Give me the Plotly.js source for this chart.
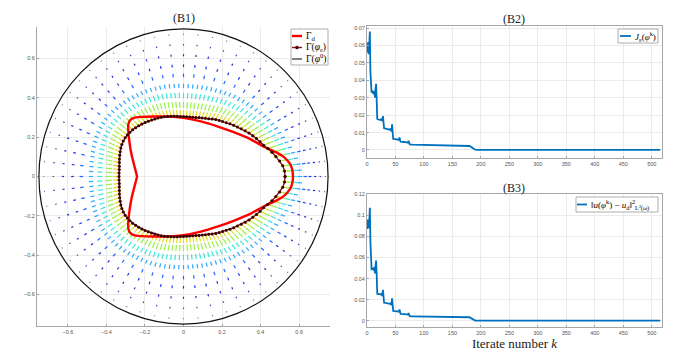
<!DOCTYPE html>
<html>
<head>
<meta charset="utf-8">
<script src="https://cdn.plot.ly/plotly-3.0.1.min.js"></script>
<style>
  html, body { margin: 0; padding: 0; background: #fff; }
  #chart { width: 698px; height: 363px; }
</style>
</head>
<body>
<div id="chart"></div>
<script>
// (B1) reconstructed boundary, polar samples of the upper half (deg, radius)
const epsAngle = [0,3,6,9,12,15,18,21,24,27,30,33,36,39,42,45,48,51,54,57,60,63,66,69,72,75,78,81,84,87,90,
                  93,96,99,102,105,108,111,114,117,120,123,126,129,132,135,138,141,144,147,150,153,156,159,162,165,168,171,174,177,180];
const epsRadius = [0.527,0.525,0.518,0.505,0.49,0.475,0.46,0.445,0.435,0.425,0.415,0.405,0.395,0.385,0.376,0.368,0.36,0.352,0.345,0.34,0.335,
                   0.328,0.322,0.317,0.313,0.31,0.307,0.305,0.304,0.304,0.305,0.306,0.308,0.31,0.313,0.316,0.319,0.322,0.325,0.328,0.331,
                   0.335,0.339,0.343,0.347,0.351,0.355,0.358,0.36,0.361,0.361,0.359,0.356,0.352,0.348,0.344,0.34,0.337,0.335,0.335,0.335];

// target boundary Gamma_d, upper half
const targetX = [0.568,0.565,0.555,0.54,0.52,0.486,0.42,0.346,0.26,0.175,0.09,0,-0.08,-0.155,-0.22,-0.258,-0.278,-0.286,-0.287,-0.285,-0.281,-0.275,-0.267,-0.258,-0.25,-0.244,-0.241];
const targetY = [0,0.03,0.06,0.08,0.1,0.12,0.15,0.19,0.225,0.255,0.28,0.298,0.305,0.305,0.303,0.298,0.285,0.265,0.24,0.215,0.18,0.14,0.1,0.065,0.035,0.012,0];

const outerRadius = 0.75;

// descent field: layers between the boundary and the outer circle
const layerT = [0.03,0.13,0.24,0.35,0.47,0.58,0.7,0.82,0.94];
const layerLen = [0.038,0.032,0.027,0.022,0.018,0.014,0.011,0.008,0.005];
const layerColor = ['#e4dc1c','#9cf048','#3ee6d6','#2eaaff','#2262ff','#1c34f2','#2a2ad2','#4444b8','#6666b4'];

// (B2), (B3) convergence histories
const iters = [0,1,2,3,4,5,6,7,8,10,12,13,14,15,16,17,18,20,24,26,27,28,29,30,33,38,41,42,43,44,45,46,50,54,56,57,58,59,65,70,72,73,74,75,80,100,130,160,175,180,184,187,190,195,250,350,450,515];
const costJ = [0.061,0.056,0.062,0.055,0.06,0.068,0.045,0.034,0.033,0.0335,0.032,0.034,0.03,0.035,0.038,0.029,0.0178,0.0175,0.0172,0.018,0.0165,0.0195,0.016,0.0125,
               0.0122,0.012,0.0115,0.0125,0.0105,0.0148,0.0095,0.0063,0.0062,0.006,0.0058,0.0072,0.0052,0.0048,0.0046,0.0045,0.0042,0.0053,0.0038,0.0032,
               0.0031,0.003,0.0028,0.0027,0.0025,0.0023,0.0015,0.0006,0.0002,0.0001,0.0001,0.0001,0.0001,0.0001];
const errL2 = [0.095,0.087,0.096,0.088,0.094,0.107,0.075,0.0505,0.049,0.0495,0.048,0.051,0.045,0.052,0.057,0.044,0.0257,0.0255,0.025,0.026,0.0235,0.0295,0.023,0.0172,
               0.017,0.0168,0.016,0.0175,0.0148,0.0215,0.014,0.0095,0.0093,0.009,0.0088,0.0108,0.0075,0.0066,0.0064,0.0062,0.006,0.0075,0.0052,0.0045,
               0.0044,0.0043,0.0041,0.004,0.0038,0.0035,0.0022,0.0009,0.0004,0.0003,0.0003,0.0003,0.0003,0.0003];

const serif = 'Liberation Serif, DejaVu Serif, serif';
const deg = Math.PI / 180;
const W = 698, H = 363;
const px = v => v / W;          // pixel -> paper x
const py = v => 1 - v / H;      // pixel -> paper y

// full closed curves (mirror the upper halves)
const epsAng = epsAngle.concat(epsAngle.slice(1, -1).reverse().map(a => 360 - a), [360]);
const epsR = epsRadius.concat(epsRadius.slice(1, -1).reverse(), [epsRadius[0]]);
const epsX = epsAng.map((a, i) => epsR[i] * Math.cos(a * deg));
const epsY = epsAng.map((a, i) => epsR[i] * Math.sin(a * deg));
const gdX = targetX.concat(targetX.slice(0, -1).reverse());
const gdY = targetY.concat(targetY.slice(0, -1).reverse().map(v => -v));

const traces = [];

// quiver segments, one trace per layer (outer layers on every other ray)
layerT.forEach((t, j) => {
  const xs = [], ys = [];
  const step = j >= 4 ? 2 : 1;
  for (let i = 0; i < epsAng.length - 1; i += step) {
    const c = Math.cos(epsAng[i] * deg), s = Math.sin(epsAng[i] * deg);
    const bx = epsX[i] + t * (outerRadius * c - epsX[i]);
    const by = epsY[i] + t * (outerRadius * s - epsY[i]);
    const h = layerLen[j] / 2;
    xs.push(bx - h * c, bx + h * c, null);
    ys.push(by - h * s, by + h * s, null);
  }
  traces.push({
    x: xs, y: ys, xaxis: 'x', yaxis: 'y', type: 'scatter', mode: 'lines',
    line: {color: layerColor[j], width: 1.2}, hoverinfo: 'skip'
  });
});

traces.push({
  x: gdX, y: gdY, xaxis: 'x', yaxis: 'y', type: 'scatter', mode: 'lines',
  line: {color: '#ff0000', width: 2.4, shape: 'spline', smoothing: 0.6}
});
traces.push({
  x: epsX, y: epsY, xaxis: 'x', yaxis: 'y', type: 'scatter', mode: 'lines+markers',
  line: {color: '#8a1414', width: 1.4},
  marker: {color: '#3a0000', size: 3, symbol: 'circle'}
});
traces.push({
  x: iters, y: costJ, xaxis: 'x2', yaxis: 'y2', type: 'scatter', mode: 'lines',
  line: {color: '#0072BD', width: 1.8}
});
traces.push({
  x: iters, y: errL2, xaxis: 'x3', yaxis: 'y3', type: 'scatter', mode: 'lines',
  line: {color: '#0072BD', width: 1.8}
});

const tickFont = {family: 'Liberation Sans, sans-serif', size: 5.5, color: '#555'};
const axisBase = {
  showgrid: true, gridcolor: '#ebebeb', gridwidth: 1, zeroline: false,
  showline: true, linecolor: '#a6a6a6', linewidth: 1,
  ticks: 'inside', ticklen: 2, tickcolor: '#a6a6a6', tickfont: tickFont
};

// hand-drawn legends (compact, MATLAB style)
const legendFont = {family: serif, size: 9, color: '#000'};
const shapes = [{
  type: 'circle', xref: 'x', yref: 'y',
  x0: -outerRadius, x1: outerRadius, y0: -outerRadius, y1: outerRadius,
  line: {color: '#111', width: 1.2}, layer: 'above'
}];
const annotations = [];
function legendBox(x0, x1, y0, y1) {
  shapes.push({type: 'rect', xref: 'paper', yref: 'paper', x0: px(x0), x1: px(x1), y0: py(y1), y1: py(y0),
    line: {color: '#9a9a9a', width: 0.8}, fillcolor: '#fff', layer: 'above'});
}
function legendItem(x0, x1, y, color, width, text, size, marker) {
  shapes.push({type: 'line', xref: 'paper', yref: 'paper', x0: px(x0), x1: px(x1), y0: py(y), y1: py(y),
    line: {color: color, width: width}, layer: 'above'});
  if (marker) {
    const m = (x0 + x1) / 2;
    shapes.push({type: 'circle', xref: 'paper', yref: 'paper', x0: px(m - 1.5), x1: px(m + 1.5), y0: py(y + 1.5), y1: py(y - 1.5),
      line: {color: '#3a0000', width: 0.5}, fillcolor: '#3a0000', layer: 'above'});
  }
  annotations.push({text: text, xref: 'paper', yref: 'paper', x: px(x1 + 2), y: py(y), xanchor: 'left', yanchor: 'middle',
    showarrow: false, font: Object.assign({}, legendFont, {size: size})});
}
legendBox(291, 328, 29, 65);
legendItem(292, 302, 36, '#ff0000', 2.4, 'Γ<sub>d</sub>', 9.5);
legendItem(292, 302, 47.5, '#8a1414', 1.4, 'Γ(<i>φ</i><sub>ε</sub>)', 9.5, true);
legendItem(292, 302, 59, '#000', 1, 'Γ(<i>φ</i><sup>0</sup>)', 9.5);
legendBox(618, 658, 29, 43);
legendItem(620, 631, 36, '#0072BD', 1.8, '<i>J</i><sub>ε</sub>(<i>φ</i><sup>k</sup>)', 9);
legendBox(576, 658, 197, 212);
legendItem(577, 587, 204.5, '#0072BD', 1.8, '‖<i>u</i>(<i>φ</i><sup>k</sup>) − <i>u</i><sub>d</sub>‖<sup>2</sup><sub>L²(ω)</sub>', 9);

const titleFont = {family: serif, size: 12, color: '#222'};
annotations.push(
  {text: '(B1)', x: px(184), y: py(18), xref: 'paper', yref: 'paper', xanchor: 'center', yanchor: 'middle', showarrow: false, font: titleFont},
  {text: '(B2)', x: px(514), y: py(19), xref: 'paper', yref: 'paper', xanchor: 'center', yanchor: 'middle', showarrow: false, font: titleFont},
  {text: '(B3)', x: px(514), y: py(188), xref: 'paper', yref: 'paper', xanchor: 'center', yanchor: 'middle', showarrow: false, font: titleFont}
);

const layout = {
  width: W, height: H,
  margin: {l: 0, r: 0, t: 0, b: 0},
  paper_bgcolor: '#fff', plot_bgcolor: '#fff',
  font: {family: serif},
  showlegend: false,
  xaxis: Object.assign({}, axisBase, {domain: [px(37), px(330)], anchor: 'y', range: [-0.76, 0.76],
    tickvals: [-0.6, -0.4, -0.2, 0, 0.2, 0.4, 0.6]}),
  yaxis: Object.assign({}, axisBase, {domain: [py(326), py(27)], anchor: 'x', range: [-0.76, 0.76],
    tickvals: [-0.6, -0.4, -0.2, 0, 0.2, 0.4, 0.6]}),
  xaxis2: Object.assign({}, axisBase, {domain: [px(367), px(662)], anchor: 'y2', range: [0, 518], dtick: 50, mirror: true}),
  yaxis2: Object.assign({}, axisBase, {domain: [py(158), py(26)], anchor: 'x2', range: [-0.0046, 0.0712], dtick: 0.01, mirror: true}),
  xaxis3: Object.assign({}, axisBase, {domain: [px(367), px(662)], anchor: 'y3', range: [0, 518], dtick: 50, mirror: true,
    title: {text: 'Iterate number <i>k</i>', font: {family: serif, size: 13, color: '#222'}, standoff: 2}}),
  yaxis3: Object.assign({}, axisBase, {domain: [py(327), py(194)], anchor: 'x3', range: [-0.0057, 0.12], dtick: 0.02, mirror: true}),
  shapes: shapes,
  annotations: annotations
};

Plotly.newPlot('chart', traces, layout, {displayModeBar: false, staticPlot: true});
</script>
</body>
</html>
